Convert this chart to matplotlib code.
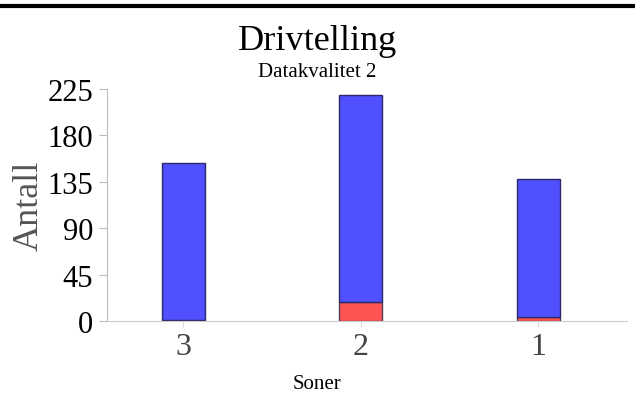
import matplotlib
matplotlib.use("Agg")
import matplotlib.pyplot as plt

soner = ["3", "2", "1"]
roed = [1, 18, 4]
blaa = [152, 201, 134]
yticks = [0, 45, 90, 135, 180, 225]

plt.rcParams['font.family'] = ['Liberation Serif', 'DejaVu Serif']

fig = plt.figure(figsize=(6.35, 4.06), dpi=100)
ax = fig.add_axes([107/635, 1 - 322/406, 520/635, 232/406])

x = list(range(len(soner)))
ax.bar(x, roed, width=0.24, color="#ff5252", edgecolor="#5a3a5a", linewidth=1)
ax.bar(x, blaa, width=0.24, bottom=roed, color="#5050ff", edgecolor="#2a2a6a", linewidth=1)

ax.set_xlim(-0.43, 2.5)
ax.set_ylim(0, 225)
ax.set_xticks(x)
ax.set_xticklabels(soner, fontsize=23, color="#444444")
ax.set_yticks(yticks)
ax.set_yticklabels([str(v) for v in yticks], fontsize=22, color="black")
ax.tick_params(axis="y", direction="out", length=6, color="#bbbbbb", pad=4)
ax.tick_params(axis="x", direction="out", length=4, color="#dddddd", pad=4)

for s in ["top", "right"]:
    ax.spines[s].set_visible(False)
ax.spines["left"].set_color("#bbbbbb")
ax.spines["bottom"].set_color("#cccccc")

ax.set_ylabel("Antall", fontsize=26, color="#555555", labelpad=1)

fig.text(0.5, 1 - 389/406, "Soner", ha="center", va="baseline", fontsize=15)
fig.text(0.5, 1 - 50/406, "Drivtelling", ha="center", va="baseline", fontsize=26)
fig.text(0.5, 1 - 77/406, "Datakvalitet 2", ha="center", va="baseline", fontsize=15)
fig.add_artist(plt.Line2D([0, 1], [1 - 7/406, 1 - 7/406], color="black", linewidth=3))

fig.savefig("out.png", dpi=100)
